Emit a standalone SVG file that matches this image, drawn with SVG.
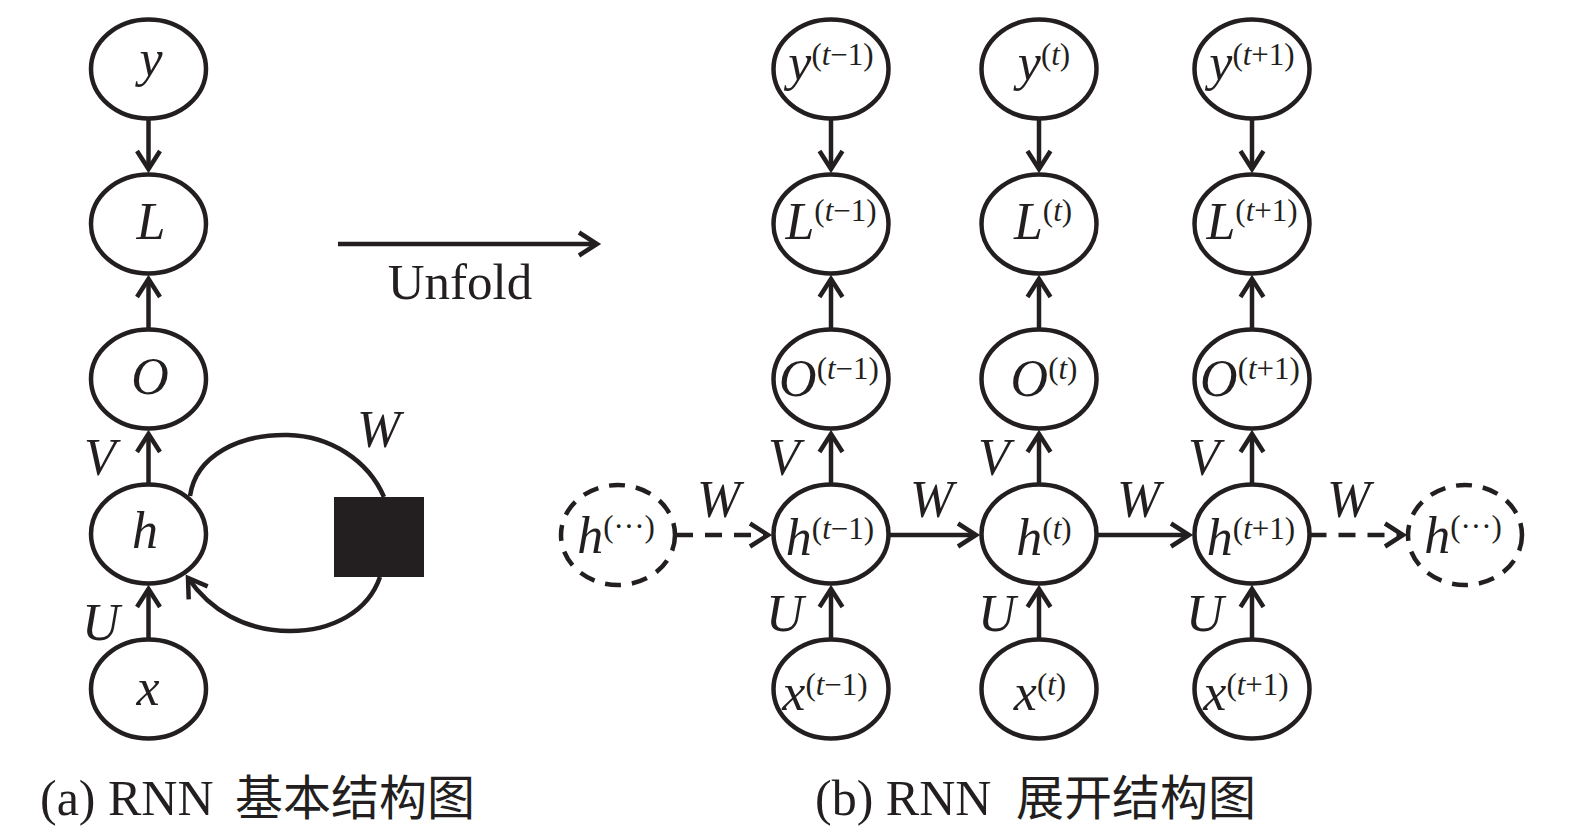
<svg xmlns="http://www.w3.org/2000/svg" width="1575" height="837" viewBox="0 0 1575 837">
<style>
.nd{fill:#fff;stroke:#231f20;stroke-width:4.5}
.dn{fill:#fff;stroke:#231f20;stroke-width:4.5;stroke-dasharray:16 11}
.cn{fill:none;stroke:#231f20;stroke-width:4.5}
.dc{fill:none;stroke:#231f20;stroke-width:4.5;stroke-dasharray:17 12}
.t{font-family:"Liberation Serif","Times New Roman",serif;font-size:52px;fill:#231f20}
.m{text-anchor:middle}
.i{font-style:italic}
.s{font-size:31px;font-style:normal}
.cap{font-family:"Liberation Serif","Noto Sans CJK SC",serif;font-size:50px;fill:#231f20}
.cjk{font-family:"Noto Sans CJK SC",sans-serif;font-size:48px}
</style>
<defs>
<marker id="ah" markerUnits="userSpaceOnUse" markerWidth="40" markerHeight="40" refX="0" refY="0" orient="auto" overflow="visible">
<path d="M-18,-11.5 L0,0 L-18,11.5" fill="none" stroke="#231f20" stroke-width="4.5" stroke-linejoin="miter"/>
</marker>
</defs>
<rect width="1575" height="837" fill="#fff"/>

<g id="connectors">
<line class="cn" x1="148.5" y1="118.5" x2="148.5" y2="169" marker-end="url(#ah)"/>
<line class="cn" x1="148.5" y1="329.5" x2="148.5" y2="279" marker-end="url(#ah)"/>
<line class="cn" x1="148.5" y1="484.5" x2="148.5" y2="434" marker-end="url(#ah)"/>
<line class="cn" x1="148.5" y1="639.5" x2="148.5" y2="589" marker-end="url(#ah)"/>
<path class="cn" d="M190,496 C196,455 240,434 288,435 C330,436 368,460 384,497"/>
<path class="cn" d="M380,577 C368,612 332,631 290,631 C245,631 210,610 188,578" marker-end="url(#ah)"/>
<line class="cn" x1="338" y1="244" x2="597" y2="244" marker-end="url(#ah)"/>
<line class="cn" x1="831" y1="118.5" x2="831" y2="169" marker-end="url(#ah)"/>
<line class="cn" x1="831" y1="329.5" x2="831" y2="279" marker-end="url(#ah)"/>
<line class="cn" x1="831" y1="484.5" x2="831" y2="434" marker-end="url(#ah)"/>
<line class="cn" x1="831" y1="639.5" x2="831" y2="589" marker-end="url(#ah)"/>
<line class="cn" x1="1039" y1="118.5" x2="1039" y2="169" marker-end="url(#ah)"/>
<line class="cn" x1="1039" y1="329.5" x2="1039" y2="279" marker-end="url(#ah)"/>
<line class="cn" x1="1039" y1="484.5" x2="1039" y2="434" marker-end="url(#ah)"/>
<line class="cn" x1="1039" y1="639.5" x2="1039" y2="589" marker-end="url(#ah)"/>
<line class="cn" x1="1252" y1="118.5" x2="1252" y2="169" marker-end="url(#ah)"/>
<line class="cn" x1="1252" y1="329.5" x2="1252" y2="279" marker-end="url(#ah)"/>
<line class="cn" x1="1252" y1="484.5" x2="1252" y2="434" marker-end="url(#ah)"/>
<line class="cn" x1="1252" y1="639.5" x2="1252" y2="589" marker-end="url(#ah)"/>
<line class="dc" x1="676" y1="535" x2="768" y2="535" marker-end="url(#ah)"/>
<line class="cn" x1="888.5" y1="535" x2="976" y2="535" marker-end="url(#ah)"/>
<line class="cn" x1="1096.5" y1="535" x2="1189" y2="535" marker-end="url(#ah)"/>
<line class="dc" x1="1309.5" y1="535" x2="1403" y2="535" marker-end="url(#ah)"/>
</g>

<g id="n-y"><ellipse class="nd" cx="148.5" cy="69" rx="57.5" ry="49.5"/><text class="t m i" x="151" y="76">y</text></g>
<g id="n-L"><ellipse class="nd" cx="148.5" cy="224" rx="57.5" ry="49.5"/><text class="t m i" x="151" y="239">L</text></g>
<g id="n-O"><ellipse class="nd" cx="148.5" cy="379" rx="57.5" ry="49.5"/><text class="t m i" x="150" y="394">O</text></g>
<g id="n-h"><ellipse class="nd" cx="148.5" cy="534" rx="57.5" ry="49.5"/><text class="t m i" x="145" y="548">h</text></g>
<g id="n-x"><ellipse class="nd" cx="148.5" cy="689" rx="57.5" ry="49.5"/><text class="t m i" x="148" y="705">x</text></g>
<g id="delay"><rect x="334" y="497" width="90" height="80" fill="#231f20"/></g>

<g id="labels-left">
<text class="t i" x="84" y="475">V</text>
<text class="t i" x="82" y="640">U</text>
<text class="t i" x="357" y="447">W</text>
<text class="t m" x="460" y="299" style="font-size:51px">Unfold</text>
</g>

<g id="n-y1"><ellipse class="nd" cx="831" cy="69" rx="57.5" ry="49.5"/><text class="t m" x="831" y="80"><tspan class="i">y</tspan><tspan class="s" dy="-15">(<tspan class="i">t</tspan>−1)</tspan></text></g>
<g id="n-L1"><ellipse class="nd" cx="831" cy="224" rx="57.5" ry="49.5"/><text class="t m" x="831" y="239"><tspan class="i">L</tspan><tspan class="s" dy="-18">(<tspan class="i">t</tspan>−1)</tspan></text></g>
<g id="n-O1"><ellipse class="nd" cx="831" cy="379" rx="57.5" ry="49.5"/><text class="t m" x="829" y="396"><tspan class="i">O</tspan><tspan class="s" dy="-17">(<tspan class="i">t</tspan>−1)</tspan></text></g>
<g id="n-h1"><ellipse class="nd" cx="831" cy="534" rx="57.5" ry="49.5"/><text class="t m" x="830" y="555"><tspan class="i">h</tspan><tspan class="s" dy="-16">(<tspan class="i">t</tspan>−1)</tspan></text></g>
<g id="n-x1"><ellipse class="nd" cx="831" cy="689" rx="57.5" ry="49.5"/><text class="t m" x="825" y="710"><tspan class="i">x</tspan><tspan class="s" dy="-15">(<tspan class="i">t</tspan>−1)</tspan></text></g>

<g id="n-y2"><ellipse class="nd" cx="1039" cy="69" rx="57.5" ry="49.5"/><text class="t m" x="1044" y="80"><tspan class="i">y</tspan><tspan class="s" dy="-15">(<tspan class="i">t</tspan>)</tspan></text></g>
<g id="n-L2"><ellipse class="nd" cx="1039" cy="224" rx="57.5" ry="49.5"/><text class="t m" x="1043" y="239"><tspan class="i">L</tspan><tspan class="s" dy="-18">(<tspan class="i">t</tspan>)</tspan></text></g>
<g id="n-O2"><ellipse class="nd" cx="1039" cy="379" rx="57.5" ry="49.5"/><text class="t m" x="1044" y="396"><tspan class="i">O</tspan><tspan class="s" dy="-17">(<tspan class="i">t</tspan>)</tspan></text></g>
<g id="n-h2"><ellipse class="nd" cx="1039" cy="534" rx="57.5" ry="49.5"/><text class="t m" x="1044" y="555"><tspan class="i">h</tspan><tspan class="s" dy="-16">(<tspan class="i">t</tspan>)</tspan></text></g>
<g id="n-x2"><ellipse class="nd" cx="1039" cy="689" rx="57.5" ry="49.5"/><text class="t m" x="1040" y="710"><tspan class="i">x</tspan><tspan class="s" dy="-15">(<tspan class="i">t</tspan>)</tspan></text></g>

<g id="n-y3"><ellipse class="nd" cx="1252" cy="69" rx="57.5" ry="49.5"/><text class="t m" x="1252" y="80"><tspan class="i">y</tspan><tspan class="s" dy="-15">(<tspan class="i">t</tspan>+1)</tspan></text></g>
<g id="n-L3"><ellipse class="nd" cx="1252" cy="224" rx="57.5" ry="49.5"/><text class="t m" x="1252" y="239"><tspan class="i">L</tspan><tspan class="s" dy="-18">(<tspan class="i">t</tspan>+1)</tspan></text></g>
<g id="n-O3"><ellipse class="nd" cx="1252" cy="379" rx="57.5" ry="49.5"/><text class="t m" x="1250" y="396"><tspan class="i">O</tspan><tspan class="s" dy="-17">(<tspan class="i">t</tspan>+1)</tspan></text></g>
<g id="n-h3"><ellipse class="nd" cx="1252" cy="534" rx="57.5" ry="49.5"/><text class="t m" x="1251" y="555"><tspan class="i">h</tspan><tspan class="s" dy="-16">(<tspan class="i">t</tspan>+1)</tspan></text></g>
<g id="n-x3"><ellipse class="nd" cx="1252" cy="689" rx="57.5" ry="49.5"/><text class="t m" x="1246" y="710"><tspan class="i">x</tspan><tspan class="s" dy="-15">(<tspan class="i">t</tspan>+1)</tspan></text></g>

<g id="n-hprev"><ellipse class="dn" cx="618" cy="535" rx="57" ry="50"/><text class="t m" x="616" y="553"><tspan class="i">h</tspan><tspan class="s" dy="-16">(···)</tspan></text></g>
<g id="n-hnext"><ellipse class="dn" cx="1465" cy="535" rx="57" ry="50"/><text class="t m" x="1463" y="553"><tspan class="i">h</tspan><tspan class="s" dy="-16">(···)</tspan></text></g>

<g id="labels-right">
<text class="t i" x="768" y="475">V</text>
<text class="t i" x="978" y="475">V</text>
<text class="t i" x="1188" y="475">V</text>
<text class="t i" x="766" y="631">U</text>
<text class="t i" x="978" y="631">U</text>
<text class="t i" x="1186" y="631">U</text>
<text class="t i" x="697" y="517">W</text>
<text class="t i" x="910" y="517">W</text>
<text class="t i" x="1117" y="517">W</text>
<text class="t i" x="1327" y="517">W</text>
</g>

<g id="captions">
<text class="cap" x="40" y="815">(a) RNN<tspan class="cjk" x="235">基本结构图</tspan></text>
<text class="cap" x="815" y="815">(b) RNN<tspan class="cjk" x="1016">展开结构图</tspan></text>
</g>
</svg>
